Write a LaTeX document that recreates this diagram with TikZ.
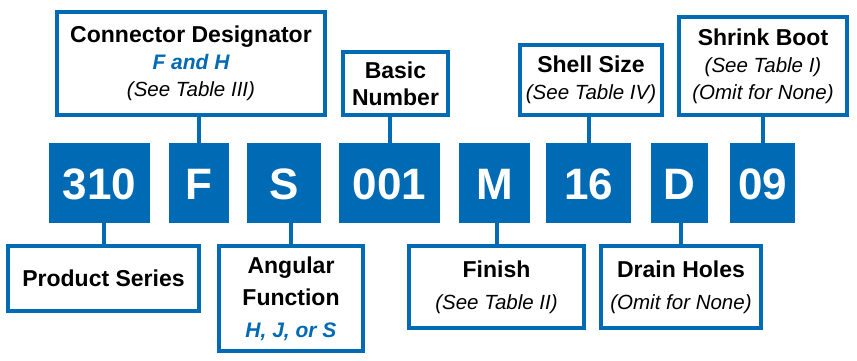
\documentclass[tikz,border=0pt]{standalone}
\usepackage{fontspec}
\setmainfont{Liberation Sans}
\definecolor{pnblue}{RGB}{0,106,180}
\tikzset{
  codebox/.style={fill=pnblue,text=white,inner sep=0pt,minimum height=80pt,text height=32pt,text depth=0pt,font=\bfseries\fontsize{44}{44}\selectfont},
  namebox/.style={draw=pnblue,line width=3.6pt,fill=white,inner sep=0pt,align=center,font=\bfseries\fontsize{23}{27}\selectfont},
  lowbox/.style={namebox,font=\bfseries\fontsize{23}{32}\selectfont},
  link/.style={draw=pnblue,line width=4pt}
}
\newcommand\seetab[1]{{\mdseries\itshape\fontsize{20.5}{20.5}\selectfont #1}}
\newcommand\opts[1]{{\color{pnblue}\itshape\fontsize{21}{21}\selectfont #1}}
\begin{document}
\begin{tikzpicture}[x=1pt,y=-1pt]
\useasboundingbox (0,0) rectangle (857,360);
\node[codebox,minimum width=101pt] (c310) at (99.5,183) {310};
\node[codebox,minimum width=60pt] (cF) at (199,183) {F};
\node[codebox,minimum width=74pt] (cS) at (284,183) {S};
\node[codebox,minimum width=101pt] (c001) at (389.5,183) {001};
\node[codebox,minimum width=71pt] (cM) at (494.5,183) {M};
\node[codebox,minimum width=85pt] (c16) at (588.5,183) {16};
\node[codebox,minimum width=57pt] (cD) at (679.5,183) {D};
\node[codebox,minimum width=65pt] (c09) at (762.5,183) {09};
\node[namebox,minimum width=268pt,minimum height=103pt] (desig) at (191,63.5) {Connector Designator\\\opts{F and H}\\\seetab{(See Table III)}};
\node[namebox,minimum width=105pt,minimum height=63pt] (basic) at (395.5,83.5) {Basic\\Number};
\node[namebox,minimum width=142pt,minimum height=70pt] (shell) at (591,80) {Shell Size\\\seetab{(See Table IV)}};
\node[namebox,minimum width=168pt,minimum height=98pt] (boot) at (763,66) {Shrink Boot\\\seetab{(See Table I)}\\\seetab{(Omit for None)}};
\node[lowbox,minimum width=191pt,minimum height=65pt] (series) at (103.5,278.5) {Product Series};
\node[lowbox,minimum width=144pt,minimum height=105pt] (angular) at (291,298.5) {Angular\\Function\\\opts{H, J, or S}};
\node[lowbox,minimum width=175pt,minimum height=82pt] (finish) at (496.5,287) {Finish\\\seetab{(See Table II)}};
\node[lowbox,minimum width=160pt,minimum height=82pt] (drain) at (681,287) {Drain Holes\\\seetab{(Omit for None)}};
\draw[link] (desig.south -| cF) -- (cF.north);
\draw[link] (basic.south -| c001) -- (c001.north);
\draw[link] (shell.south -| c16) -- (c16.north);
\draw[link] (boot.south -| c09) -- (c09.north);
\draw[link] (series.north) -- (series.north |- c310.south);
\draw[link] (angular.north) -- (angular.north |- cS.south);
\draw[link] (finish.north) -- (finish.north |- cM.south);
\draw[link] (drain.north) -- (drain.north |- cD.south);
\end{tikzpicture}
\end{document}
